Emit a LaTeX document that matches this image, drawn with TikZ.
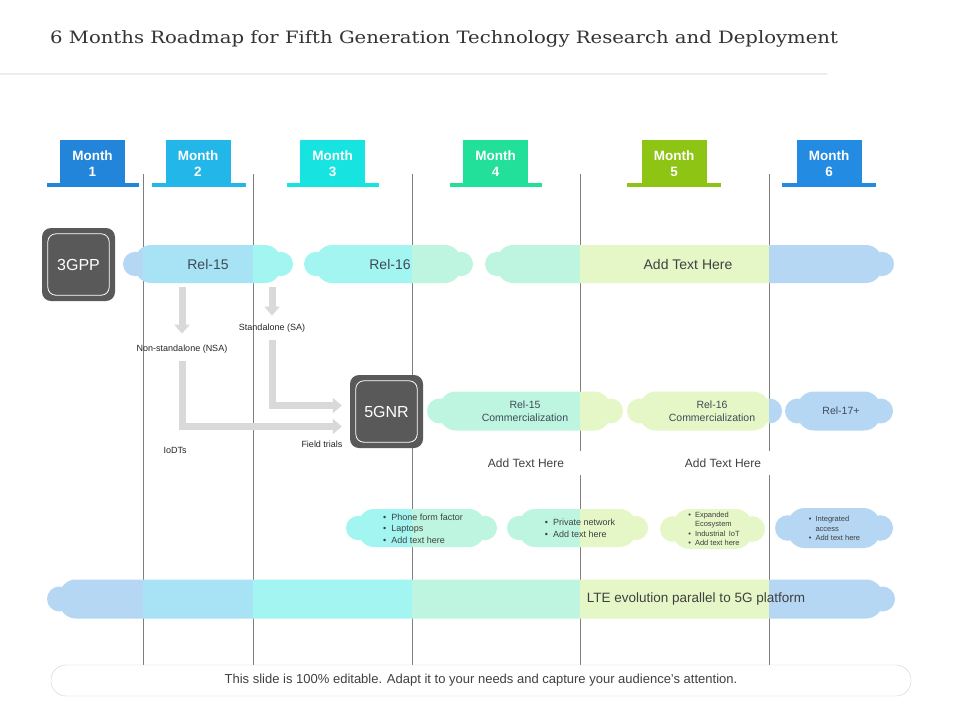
\documentclass[tikz,border=0pt]{standalone}
\usepackage{fontspec}
\setmainfont{Liberation Sans}
\newfontfamily\titlefont{DejaVu Serif}
\usetikzlibrary{arrows.meta}

\definecolor{monthA}{HTML}{2385D9}
\definecolor{monthB}{HTML}{22B6E9}
\definecolor{monthC}{HTML}{17E3E0}
\definecolor{monthD}{HTML}{22E09A}
\definecolor{monthE}{HTML}{8EC515}
\definecolor{monthF}{HTML}{238BE2}
\definecolor{bandblue}{HTML}{B5D7F3}
\definecolor{bandsky}{HTML}{A7E2F5}
\definecolor{bandcyan}{HTML}{A3F5F2}
\definecolor{bandmint}{HTML}{BDF5E0}
\definecolor{bandlime}{HTML}{E6F7C7}
\definecolor{boxgray}{HTML}{595959}
\definecolor{arrowgray}{HTML}{D9D9D9}
\definecolor{gridgray}{HTML}{7F7F7F}
\definecolor{txtgray}{HTML}{404040}
\definecolor{relgray}{HTML}{3E4A58}

% one cloud: left, right, middle, height
\newcommand{\roadcloud}[4]{%
  \pgfmathsetmacro{\cloudr}{0.32*#4}%
  \pgfmathsetmacro{\cloudc}{0.42*#4}%
  \fill[rounded corners=\cloudc pt] ({#1+\cloudr},{#3-#4/2}) rectangle ({#2-\cloudr},{#3+#4/2});
  \fill ({#1+\cloudr},#3) circle[radius=\cloudr pt];
  \fill ({#2-\cloudr},#3) circle[radius=\cloudr pt];
}
\newcommand{\allclouds}{%
  \roadcloud{123}{293}{264}{38}
  \roadcloud{304}{473}{264}{38}
  \roadcloud{485}{894}{264}{38}
  \roadcloud{427}{623}{411}{39}
  \roadcloud{627}{782}{411}{39}
  \roadcloud{785}{893}{411}{39}
  \roadcloud{346}{497}{528}{38}
  \roadcloud{507}{648}{528}{38}
  \roadcloud{660}{765}{529}{40}
  \roadcloud{775}{893}{528}{40}
  \roadcloud{47}{895}{599}{39}
}
% one month column of colour inside the clouds
\newcommand{\bandfill}[3]{%
  \begin{scope}
    \clip (#1,0) rectangle (#2,720);
    \begin{scope}[fill=#3]
      \allclouds
    \end{scope}
  \end{scope}
}
\newcommand{\monthtext}[1]{\raisebox{-4pt}[\height][\depth]{\begin{tabular}{@{}c@{}}Month\\#1\end{tabular}}}

\begin{document}
\begin{tikzpicture}[x=1pt, y=-1pt,
    month/.style={fill=#1, text=white, font=\bfseries\fontsize{13.5}{16}\selectfont,
      minimum width=65pt, minimum height=43pt, inner sep=0pt, align=center},
    gridline/.style={draw=gridgray, line width=0.8pt},
    darkbox/.style={fill=boxgray, rounded corners=9pt, minimum width=73pt,
      minimum height=73pt, text=white, font=\fontsize{16}{18}\selectfont},
    reltxt/.style={text=relgray, font=\fontsize{14}{16}\selectfont},
    commtxt/.style={text=relgray, font=\fontsize{10.5}{13}\selectfont, align=center},
    smalltxt/.style={text=black!85, font=\fontsize{9}{11}\selectfont, inner sep=1pt},
    listtxt/.style={text=txtgray, align=left, inner sep=0pt},
    addtxt/.style={fill=white, text=txtgray, font=\fontsize{12}{14}\selectfont,
      minimum width=120pt, minimum height=24pt},
    garrow/.style={draw=arrowgray, line width=7pt, -{Triangle[width=15pt,length=9pt]}}]

    \fill[white] (0,0) rectangle (960,720);
    \useasboundingbox (0,0) rectangle (960,720);

    % title
    \node[anchor=west, font=\titlefont\fontsize{17}{20}\selectfont, text=black!80, inner sep=0pt] (title) at (50,39)
      {\scalebox{1.155}[1]{6 Months Roadmap for Fifth Generation Technology Research and Deployment}};
    \draw[line width=2pt, black!7] (0,74) -- (827,74);

    % months
    \node[month=monthA] (m1) at (92.5,161.5) {\monthtext{1}};
    \node[month=monthB] (m2) at (198,161.5) {\monthtext{2}};
    \node[month=monthC] (m3) at (332.5,161.5) {\monthtext{3}};
    \node[month=monthD] (m4) at (495.5,161.5) {\monthtext{4}};
    \node[month=monthE] (m5) at (674,161.5) {\monthtext{5}};
    \node[month=monthF] (m6) at (829,161.5) {\monthtext{6}};
    \fill[monthA] ([xshift=-13pt]m1.south west) rectangle ([xshift=14pt,yshift=-3.5pt]m1.south east);
    \fill[monthB] ([xshift=-13pt]m2.south west) rectangle ([xshift=15pt,yshift=-3.5pt]m2.south east);
    \fill[monthC] ([xshift=-13pt]m3.south west) rectangle ([xshift=14pt,yshift=-3.5pt]m3.south east);
    \fill[monthD] ([xshift=-13pt]m4.south west) rectangle ([xshift=14pt,yshift=-3.5pt]m4.south east);
    \fill[monthE] ([xshift=-14pt]m5.south west) rectangle ([xshift=14pt,yshift=-3.5pt]m5.south east);
    \fill[monthF] ([xshift=-14pt]m6.south west) rectangle ([xshift=14pt,yshift=-3.5pt]m6.south east);

    % month borders
    \draw[gridline] (143,174) -- (143,665);
    \draw[gridline] (253,174) -- (253,665);
    \draw[gridline] (412,174) -- (412,665);
    \draw[gridline] (580,174) -- (580,665);
    \draw[gridline] (769,174) -- (769,665);

    % clouds, coloured by month
    \bandfill{0}{143}{bandblue}
    \bandfill{143}{253}{bandsky}
    \bandfill{253}{412}{bandcyan}
    \bandfill{412}{580}{bandmint}
    \bandfill{580}{769}{bandlime}
    \bandfill{769}{960}{bandblue}

    \node[reltxt, minimum height=38pt] (rel15) at (208,264) {Rel-15};
    \node[reltxt] (rel16) at (390,264) {Rel-16};
    \node[reltxt, text=txtgray] (addrel) at (688,264) {Add Text Here};
    \node[commtxt] (rel15c) at (525,411) {Rel-15\\Commercialization};
    \node[commtxt] (rel16c) at (712,411) {Rel-16\\Commercialization};
    \node[commtxt] (rel17) at (841,411) {Rel-17+};
    \node[reltxt, font=\fontsize{13.5}{15}\selectfont, text=txtgray] (lte) at (696,599)
      {LTE evolution parallel to 5G platform};

    \node[listtxt, font=\fontsize{9}{11.5}\selectfont] (listA) at (423,528.5)
      {\textbullet\hspace{5pt}Phone form factor\\\textbullet\hspace{5pt}Laptops\\\textbullet\hspace{5pt}Add text here};
    \node[listtxt, font=\fontsize{9}{11.5}\selectfont] (listB) at (580,528.5)
      {\textbullet\hspace{5pt}Private network\\\textbullet\hspace{5pt}Add text here};
    \node[listtxt, font=\fontsize{7.5}{9.5}\selectfont] (listC) at (714,529)
      {\textbullet\hspace{4pt}Expanded\\\phantom{\textbullet}\hspace{4pt}Ecosystem\\\textbullet\hspace{4pt}Industrial\, IoT\\\textbullet\hspace{4pt}Add text here};
    \node[listtxt, font=\fontsize{7.5}{9.5}\selectfont] (listD) at (834.5,528.5)
      {\textbullet\hspace{4pt}Integrated\\\phantom{\textbullet}\hspace{4pt}access\\\textbullet\hspace{4pt}Add text here};

    % 3GPP and 5GNR
    \node[darkbox] (gpp) at (78.5,264.5) {3GPP};
    \draw[white, line width=0.8pt, rounded corners=8pt] ([shift={(6pt,6pt)}]gpp.south west) rectangle ([shift={(-6pt,-6pt)}]gpp.north east);
    \node[darkbox] (gnr) at (386.5,411.5) {5GNR};
    \draw[white, line width=0.8pt, rounded corners=8pt] ([shift={(6pt,6pt)}]gnr.south west) rectangle ([shift={(-6pt,-6pt)}]gnr.north east);

    % labels and arrows
    \node[smalltxt] (nsa) at (182,349) {Non-standalone (NSA)};
    \node[smalltxt] (sa) at (272,328) {Standalone (SA)};
    \node[smalltxt] (iodt) at (175,450) {IoDTs};
    \node[smalltxt] (field) at (322,444) {Field trials};

    \draw[garrow, shorten >=10pt] ([yshift=-4pt]rel15.south -| nsa.north) -- (nsa.north);
    \draw[garrow, shorten >=7pt] ([yshift=-4pt]rel15.south -| sa.north) -- (sa.north);
    \draw[garrow, shorten <=7pt, shorten >=8pt] (sa.south) |- ([yshift=6pt]gnr.west);
    \draw[garrow, shorten <=7pt, shorten >=8pt] (nsa.south) |- ([yshift=-15pt]gnr.west);

    \node[addtxt] (addA) at (526,463) {Add Text Here};
    \node[addtxt] (addB) at (723,463) {Add Text Here};

    % footer
    \node[draw=black!18, fill=white, rounded corners=15pt, minimum width=860pt, minimum height=31pt,
      font=\fontsize{13}{15}\selectfont, text=txtgray] (note) at (481,680.5)
      {This slide is 100\% editable. Adapt it to your needs and capture your audience's attention.};
\end{tikzpicture}
\end{document}
